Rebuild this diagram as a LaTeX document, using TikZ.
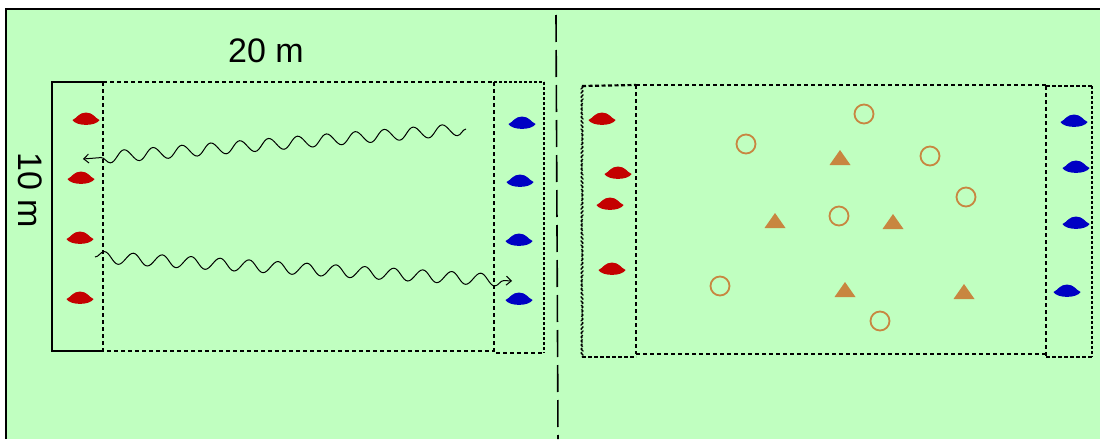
\documentclass[tikz,border=0pt]{standalone}
\usepackage{fontspec}
\setmainfont{Liberation Sans}
\usetikzlibrary{decorations.pathmorphing,arrows.meta}
\definecolor{field}{RGB}{192,255,192}
\definecolor{conered}{RGB}{196,0,0}
\definecolor{coneblue}{RGB}{0,0,196}
\definecolor{markcol}{RGB}{200,134,64}
\tikzset{
  cone/.pic={\fill[#1] (-13.5,1) .. controls (-9,-1) and (-7,-6.5) .. (0,-6.5) .. controls (7,-6.5) and (9,-1) .. (13.5,1) .. controls (10,7.5) and (-10,7.5) .. cycle;},
  tri/.pic={\fill[markcol] (-10.5,7) -- (0,-8) -- (10.5,7) -- cycle;},
  ring/.style={circle, draw=markcol, line width=1.8pt, minimum size=19pt, inner sep=0pt},
  thindash/.style={line width=1.3pt, dash pattern=on 4pt off 3pt},
  thickdash/.style={line width=2.4pt, dash pattern=on 3pt off 2pt},
  wave/.style={decorate, decoration={snake, amplitude=6pt, segment length=29pt, post length=8pt}, line width=1pt, -{Straight Barb[length=5pt,width=9pt]}},
  lbl/.style={font=\fontsize{34}{34}\selectfont, inner sep=0pt}
}
\begin{document}
\begin{tikzpicture}[x=1pt,y=-1pt]
\useasboundingbox (0,0) rectangle (1100,439);
\fill[white] (0,0) rectangle (1100,439);
\fill[field] (6,9) rectangle (1100,439);
\draw[line width=2pt] (6,439) -- (6,9) -- (1100,9);
% divider
\draw[line width=1.6pt, dash pattern=on 27pt off 8pt] (556,15) -- (558,439);
% labels
\node[lbl] (w) at (266,51) {20 m};
\node[lbl, rotate=-90] (h) at (30,190) {10 m};
% left field
\draw[line width=1.2pt] (103,82) -- (52,82) -- (52,351) -- (103,351);
\draw[thindash] (103,82) -- (494,82);
\draw[thindash] (103,82) -- (103,351) -- (494,351);
\draw[thindash] (494,82) -- (494,353) -- (544,353);
\draw[line width=1.8pt, dash pattern=on 3pt off 2pt] (494,82) -- (544,82);
\draw[thickdash] (544,82) -- (544,353);
% cones left field
\pic at (86,119) {cone=conered};
\pic at (81,178) {cone=conered};
\pic at (80,238) {cone=conered};
\pic at (80,298) {cone=conered};
\pic at (522,123) {cone=coneblue};
\pic at (520,181) {cone=coneblue};
\pic at (519,240) {cone=coneblue};
\pic at (519,299) {cone=coneblue};
% wavy runs
\coordinate (a1) at (466,129);
\coordinate (a2) at (83,159);
\coordinate (b1) at (95,257);
\coordinate (b2) at (512,281);
\draw[wave] (a1) -- (a2);
\draw[wave] (b1) -- (b2);
% right field
\draw[thindash] (636,85) -- (1046,85);
\draw[thindash] (636,354) -- (1046,354);
\draw[thindash] (636,85) -- (636,354);
\draw[thindash] (1046,86) -- (1046,357);
\draw[line width=2.2pt, dash pattern=on 4pt off 2.5pt] (582,86) -- (636,85);
\draw[line width=1.4pt, dash pattern=on 4pt off 1.5pt, decorate, decoration={zigzag, amplitude=0.8pt, segment length=4pt}] (582,86) -- (582,357);
\draw[line width=1.5pt, dash pattern=on 4pt off 2pt] (582,357) -- (636,357);
\draw[line width=1.5pt, dash pattern=on 4pt off 2pt] (1046,86) -- (1092,86);
\draw[thickdash] (1092,86) -- (1092,357);
\draw[line width=1.5pt, dash pattern=on 4pt off 2pt] (1046,357) -- (1092,357);
% cones right field
\pic at (602,119) {cone=conered};
\pic at (618,173) {cone=conered};
\pic at (610,204) {cone=conered};
\pic at (612,269) {cone=conered};
\pic at (1074,121) {cone=coneblue};
\pic at (1076,167) {cone=coneblue};
\pic at (1076,223) {cone=coneblue};
\pic at (1067,291) {cone=coneblue};
% rings
\node[ring] (r1) at (864,114) {};
\node[ring] (r2) at (746,144) {};
\node[ring] (r3) at (930,156) {};
\node[ring] (r4) at (966,197) {};
\node[ring] (r5) at (839,216) {};
\node[ring] (r6) at (720,286) {};
\node[ring] (r7) at (880,321) {};
% triangles
\pic at (840,158) {tri};
\pic at (775,221) {tri};
\pic at (893,222) {tri};
\pic at (845,290) {tri};
\pic at (964,292) {tri};
\end{tikzpicture}
\end{document}
